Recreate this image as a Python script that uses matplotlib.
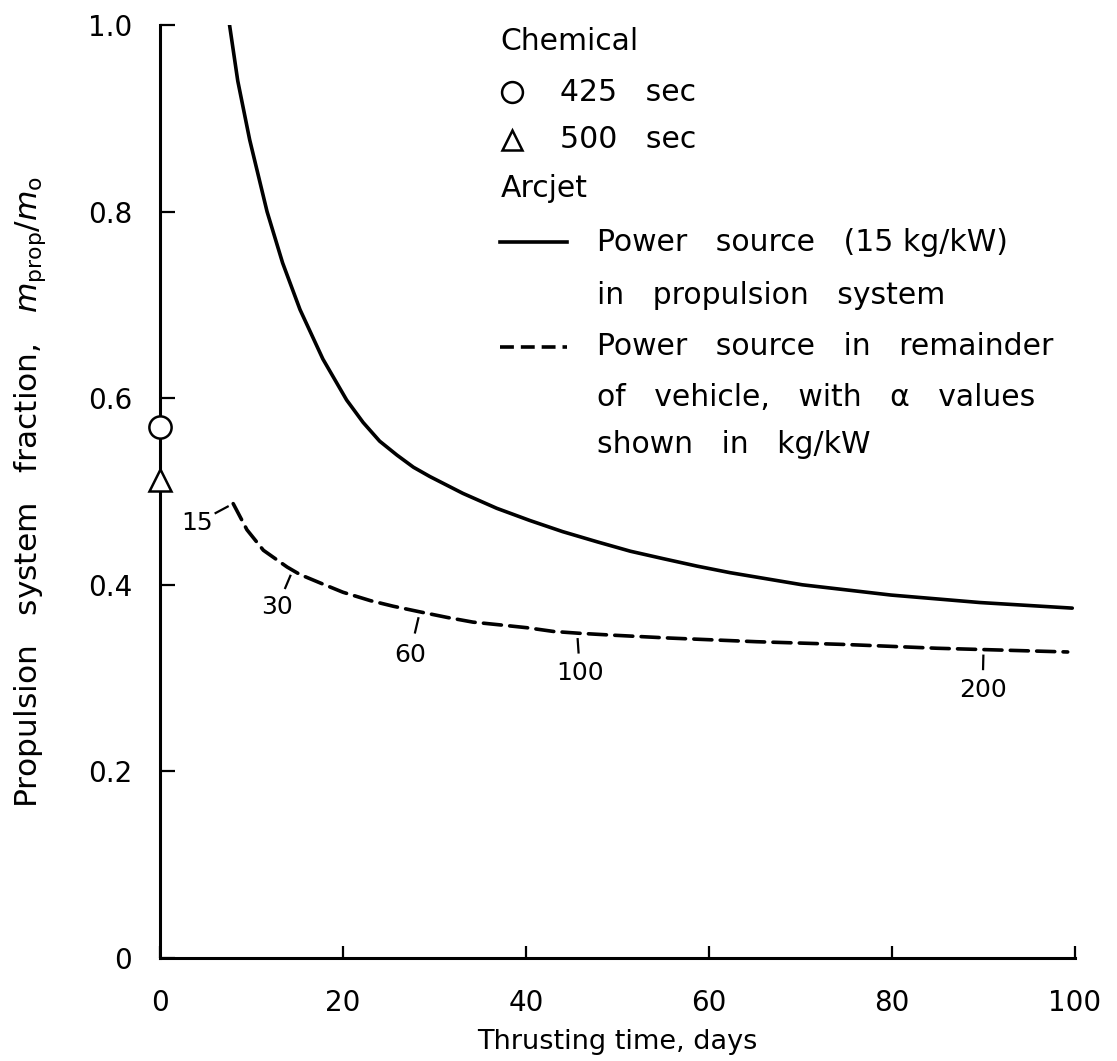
import matplotlib
matplotlib.use("Agg")
import matplotlib.pyplot as plt
import numpy as np

plt.rcParams['font.family'] = ['DejaVu Sans']
plt.rcParams['mathtext.fontset'] = 'dejavusans'
plt.rcParams['lines.scale_dashes'] = False

# arcjet, power source inside the propulsion system (15 kg/kW)
solid_days = [7.6, 8.5, 9.8, 11.7, 13.4, 15.3, 17.8, 20.4, 22.2, 24.0, 25.9,
              27.7, 29.5, 33.1, 36.8, 40.4, 44.0, 47.8, 51.4, 55.0, 58.7,
              62.3, 70.2, 79.9, 89.6, 99.7]
solid_frac = [1.0, 0.940, 0.877, 0.800, 0.745, 0.695, 0.642, 0.598, 0.574,
              0.554, 0.539, 0.526, 0.516, 0.498, 0.482, 0.469, 0.457, 0.446,
              0.436, 0.428, 0.420, 0.413, 0.400, 0.389, 0.381, 0.375]

# arcjet, power source in remainder of vehicle
dash_days = [8.0, 9.5, 11.3, 13.9, 15.3, 17.5, 20.0, 23.0, 25.5, 28.4, 31.4,
             34.2, 37.2, 40.1, 43.0, 45.9, 49.5, 55.5, 65.2, 75.0, 84.9, 99.2]
dash_frac = [0.487, 0.459, 0.437, 0.419, 0.411, 0.402, 0.392, 0.383, 0.377,
             0.371, 0.365, 0.360, 0.357, 0.354, 0.350, 0.348, 0.346, 0.343,
             0.339, 0.336, 0.332, 0.328]

# alpha values (kg/kW) marked along the dashed curve
alpha_vals = ["15", "30", "60", "100", "200"]
alpha_days = [8.0, 14.5, 28.4, 45.6, 90.0]
alpha_lab_x = [4.0, 12.8, 27.3, 45.9, 89.9]
alpha_lab_y = [0.466, 0.376, 0.325, 0.305, 0.287]

# chemical propulsion points
chem_isp = ["425   sec", "500   sec"]
chem_frac = [0.569, 0.512]
chem_marker = ["o", "^"]

xticks = [0, 20, 40, 60, 80, 100]
yticks = [0, 0.2, 0.4, 0.6, 0.8, 1.0]
ytick_labels = ["0", "0.2", "0.4", "0.6", "0.8", "1.0"]

fig = plt.figure(figsize=(11.17, 10.61), dpi=100)
ax = fig.add_axes([160 / 1117, 103 / 1061, 915 / 1117, 933 / 1061])

lw = 2.6
ax.plot(solid_days, solid_frac, color='black', lw=lw, solid_capstyle='round',
        solid_joinstyle='round')
ax.plot(dash_days, dash_frac, color='black', lw=lw, dashes=(13, 6),
        dash_capstyle='round')

for isp, y, m in zip(chem_isp, chem_frac, chem_marker):
    ax.plot([0], [y], marker=m, ms=16, mfc='white', mec='black', mew=1.8,
            clip_on=False, zorder=5)

# alpha leaders and labels
for lab, xc, xl, yl in zip(alpha_vals, alpha_days, alpha_lab_x, alpha_lab_y):
    yc = np.interp(xc, dash_days, dash_frac)
    t0, t1 = 0.15, 0.48
    ax.plot([xc + t0 * (xl - xc), xc + t1 * (xl - xc)],
            [yc + t0 * (yl - yc), yc + t1 * (yl - yc)],
            color='black', lw=1.6)
    ax.text(xl, yl, lab, ha='center', va='center', fontsize=18)

ax.set_xlim(0, 100)
ax.set_ylim(0, 1.0)
ax.set_xticks(xticks)
ax.set_xticklabels([str(v) for v in xticks])
ax.set_yticks(yticks)
ax.set_yticklabels(ytick_labels)
ax.spines['top'].set_visible(False)
ax.spines['right'].set_visible(False)
for s in ['left', 'bottom']:
    ax.spines[s].set_linewidth(2.2)
ax.tick_params(axis='y', direction='in', length=11, width=1.6, pad=20,
               labelsize=20)
ax.tick_params(axis='x', direction='in', length=9, width=1.6, pad=22,
               labelsize=20)

ax.set_xlabel("Thrusting time, days", fontsize=19.5)
ax.xaxis.set_label_coords(0.5, -0.076)
ax.set_ylabel(r"Propulsion   system   fraction,   $m_{\mathrm{prop}}/m_{\mathrm{o}}$",
              fontsize=22.5)
ax.yaxis.set_label_coords(-0.122, 0.5)

# legend drawn by hand
tr = ax.transAxes
fs = 21.5
ax.text(0.372, 0.982, "Chemical", transform=tr, fontsize=fs, va='center')
for isp, m, yy in zip(chem_isp, chem_marker, [0.928, 0.877]):
    ax.plot([0.385], [yy], marker=m, ms=15, mfc='white', mec='black',
            mew=1.8, transform=tr, clip_on=False)
    ax.text(0.437, yy, isp, transform=tr, fontsize=fs, va='center')
ax.text(0.372, 0.825, "Arcjet", transform=tr, fontsize=fs, va='center')
ax.plot([0.372, 0.445], [0.767, 0.767], color='black', lw=lw, transform=tr)
ax.text(0.478, 0.767, "Power   source   (15 kg/kW)", transform=tr,
        fontsize=fs, va='center')
ax.text(0.478, 0.710, "in   propulsion   system", transform=tr,
        fontsize=fs, va='center')
ax.plot([0.372, 0.445], [0.655, 0.655], color='black', lw=lw, dashes=(10, 5),
        transform=tr)
ax.text(0.478, 0.655, "Power   source   in   remainder", transform=tr,
        fontsize=fs, va='center')
ax.text(0.478, 0.601, "of   vehicle,   with   \u03b1   values", transform=tr,
        fontsize=fs, va='center')
ax.text(0.478, 0.550, "shown   in   kg/kW", transform=tr,
        fontsize=fs, va='center')

fig.savefig("out.png", dpi=100)
